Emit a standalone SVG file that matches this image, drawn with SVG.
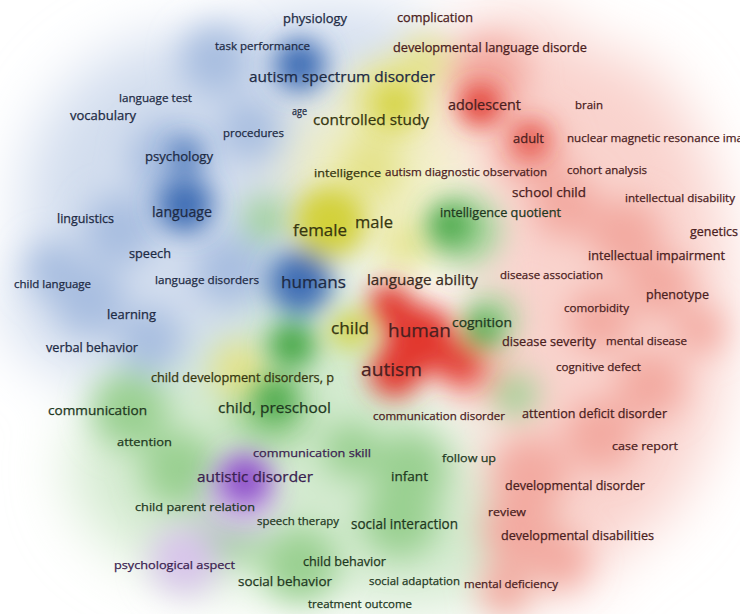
<svg xmlns="http://www.w3.org/2000/svg" width="740" height="614" viewBox="0 0 740 614">
<defs>
<filter id="bl1" filterUnits="userSpaceOnUse" x="-200" y="-200" width="1140" height="1014"><feGaussianBlur stdDeviation="30"/></filter>
<filter id="bl2" filterUnits="userSpaceOnUse" x="-200" y="-200" width="1140" height="1014"><feGaussianBlur stdDeviation="16"/></filter>
<filter id="bl3" filterUnits="userSpaceOnUse" x="-200" y="-200" width="1140" height="1014"><feGaussianBlur stdDeviation="13"/></filter>
</defs>
<style>
text{font-family:"Open Sans","Noto Sans","Liberation Sans",sans-serif;text-anchor:middle;font-weight:500;stroke-width:0.25}
.b{fill:#1d2a44;stroke:#1d2a44}.r{fill:#4a2020;stroke:#4a2020}.g{fill:#1e381e;stroke:#1e381e}.y{fill:#36360f;stroke:#36360f}.p{fill:#3a2150;stroke:#3a2150}.n{fill:#3a2a1e;stroke:#3a2a1e}
.pb{fill:#d2ddee}.pr{fill:#f9d3cd}.pg{fill:#d3eacf}.py{fill:#efeec0}
.mb{fill:#a8bee0}.mr{fill:#f3aaa1}.mg{fill:#9ad091}.my{fill:#e4e288}
.sb{fill:#3f6eb5}.sr{fill:#e2382f}.sg{fill:#4aa848}.sy{fill:#d3d13a}.sp{fill:#9052cb}.pp{fill:#d8c4eb}
</style>
<rect width="740" height="614" fill="#ffffff"/>
<g id="density">
<g id="wash" filter="url(#bl1)">
<ellipse class="pb" cx="190" cy="200" rx="165" ry="165"/>
<ellipse class="pb" cx="105" cy="300" rx="100" ry="80"/>
<ellipse class="pb" cx="330" cy="45" rx="110" ry="40"/>
<ellipse class="pr" cx="600" cy="300" rx="130" ry="250"/>
<ellipse class="pr" cx="515" cy="85" rx="80" ry="75"/>
<ellipse class="pr" cx="540" cy="520" rx="80" ry="80"/>
<ellipse class="pg" cx="270" cy="470" rx="200" ry="120"/>
<ellipse class="pg" cx="410" cy="540" rx="120" ry="70"/>
<ellipse class="pg" cx="320" cy="340" rx="80" ry="60"/>
<ellipse class="py" cx="370" cy="170" rx="90" ry="70"/>
<ellipse class="py" cx="410" cy="240" rx="40" ry="30"/>
</g>
<g id="medium" filter="url(#bl2)">
<circle class="mb" cx="215" cy="60" r="35"/>
<circle class="mb" cx="170" cy="160" r="40"/>
<circle class="mb" cx="120" cy="230" r="35"/>
<circle class="mb" cx="90" cy="300" r="35"/>
<circle class="mb" cx="55" cy="270" r="28"/>
<circle class="mb" cx="150" cy="340" r="32"/>
<circle class="mb" cx="250" cy="130" r="30"/>
<circle class="mb" cx="230" cy="270" r="35"/>
<circle class="mr" cx="490" cy="75" r="38"/>
<circle class="mr" cx="530" cy="150" r="35"/>
<circle class="mr" cx="565" cy="205" r="33"/>
<circle class="mr" cx="625" cy="235" r="36"/>
<circle class="mr" cx="660" cy="285" r="32"/>
<circle class="mr" cx="600" cy="320" r="32"/>
<circle class="mr" cx="650" cy="385" r="34"/>
<circle class="mr" cx="600" cy="435" r="36"/>
<circle class="mr" cx="530" cy="475" r="38"/>
<circle class="mr" cx="520" cy="530" r="38"/>
<circle class="mr" cx="560" cy="560" r="28"/>
<circle class="mr" cx="505" cy="590" r="26"/>
<circle class="mr" cx="700" cy="330" r="24"/>
<circle class="mr" cx="470" cy="365" r="34"/>
<circle class="mg" cx="465" cy="230" r="35"/>
<circle class="mg" cx="490" cy="320" r="26"/>
<circle class="mg" cx="270" cy="410" r="40"/>
<circle class="mg" cx="130" cy="410" r="38"/>
<circle class="mg" cx="180" cy="470" r="38"/>
<circle class="mg" cx="410" cy="470" r="38"/>
<circle class="mg" cx="400" cy="520" r="38"/>
<circle class="mg" cx="300" cy="565" r="38"/>
<circle class="mg" cx="350" cy="450" r="28"/>
<circle class="mg" cx="515" cy="395" r="22"/>
<circle class="mg" cx="230" cy="530" r="32"/>
<circle class="mg" cx="265" cy="220" r="22"/>
<circle class="my" cx="390" cy="100" r="40"/>
<circle class="my" cx="425" cy="60" r="25"/>
<circle class="my" cx="370" cy="170" r="30"/>
<circle class="my" cx="240" cy="370" r="28"/>
<circle class="my" cx="405" cy="245" r="22"/>
<circle class="pp" cx="185" cy="560" r="35"/>
<circle class="pp" cx="240" cy="500" r="35"/>
</g>
<g id="strong" filter="url(#bl3)">
<circle class="sb" cx="300" cy="65" r="26"/>
<circle class="sb" cx="185" cy="205" r="28"/>
<circle class="sb" cx="300" cy="282" r="32"/>
<circle class="sb" cx="185" cy="155" r="14"/>
<circle class="sy" cx="330" cy="222" r="36"/>
<circle class="sy" cx="350" cy="330" r="18"/>
<circle class="sy" cx="395" cy="105" r="18"/>
<circle class="sg" cx="292" cy="345" r="24"/>
<circle class="sg" cx="450" cy="225" r="20"/>
<circle class="sg" cx="275" cy="400" r="20"/>
<circle class="sg" cx="482" cy="330" r="16"/>
<circle class="sr" cx="420" cy="340" r="36"/>
<circle class="sr" cx="395" cy="372" r="26"/>
<circle class="sr" cx="390" cy="305" r="22"/>
<circle class="sr" cx="480" cy="105" r="20"/>
<circle class="sr" cx="530" cy="140" r="15"/>
<circle class="sr" cx="462" cy="365" r="18"/>
<circle class="sp" cx="245" cy="480" r="26"/>
</g>
</g>
<g id="labels">
<text id="t1" class="b" x="315" y="23" font-size="12.5" textLength="64" lengthAdjust="spacingAndGlyphs">physiology</text>
<text id="t2" class="r" x="435" y="22" font-size="12.5" textLength="76" lengthAdjust="spacingAndGlyphs">complication</text>
<text id="t3" class="b" x="262.5" y="50" font-size="11.5" textLength="95" lengthAdjust="spacingAndGlyphs">task performance</text>
<text id="t4" class="r" x="490" y="52" font-size="12" textLength="194" lengthAdjust="spacingAndGlyphs">developmental language disorde</text>
<text id="t5" class="b" x="342" y="82" font-size="15" textLength="186" lengthAdjust="spacingAndGlyphs">autism spectrum disorder</text>
<text id="t6" class="r" x="484.5" y="110" font-size="14" textLength="73" lengthAdjust="spacingAndGlyphs">adolescent</text>
<text id="t7" class="r" x="589" y="109" font-size="11.5" textLength="28" lengthAdjust="spacingAndGlyphs">brain</text>
<text id="t8" class="b" x="155.5" y="102" font-size="11.5" textLength="73" lengthAdjust="spacingAndGlyphs">language test</text>
<text id="t9" class="b" x="299.5" y="115" font-size="10" textLength="15" lengthAdjust="spacingAndGlyphs">age</text>
<text id="t10" class="y" x="371" y="125" font-size="15" textLength="116" lengthAdjust="spacingAndGlyphs">controlled study</text>
<text id="t11" class="b" x="103" y="120" font-size="12" textLength="66" lengthAdjust="spacingAndGlyphs">vocabulary</text>
<text id="t12" class="b" x="253.5" y="137" font-size="11.5" textLength="61" lengthAdjust="spacingAndGlyphs">procedures</text>
<text id="t13" class="r" x="528.5" y="143" font-size="13.5" textLength="31" lengthAdjust="spacingAndGlyphs">adult</text>
<text id="t14" class="r" x="567" y="142" font-size="11.5" textLength="176" lengthAdjust="spacingAndGlyphs" style="text-anchor:start">nuclear magnetic resonance ima</text>
<text id="t15" class="b" x="179" y="161" font-size="13" textLength="68" lengthAdjust="spacingAndGlyphs">psychology</text>
<text id="t16" class="y" x="347.5" y="177" font-size="11.5" textLength="67" lengthAdjust="spacingAndGlyphs">intelligence</text>
<text id="t17" class="r" x="466" y="176" font-size="11.5" textLength="162" lengthAdjust="spacingAndGlyphs">autism diagnostic observation</text>
<text id="t18" class="r" x="607" y="174" font-size="11.5" textLength="80" lengthAdjust="spacingAndGlyphs">cohort analysis</text>
<text id="t19" class="r" x="549" y="197" font-size="13.5" textLength="74" lengthAdjust="spacingAndGlyphs">school child</text>
<text id="t20" class="r" x="680" y="202" font-size="11.5" textLength="110" lengthAdjust="spacingAndGlyphs">intellectual disability</text>
<text id="t21" class="b" x="85.5" y="223" font-size="12" textLength="57" lengthAdjust="spacingAndGlyphs">linguistics</text>
<text id="t22" class="b" x="182" y="217" font-size="14.5" textLength="60" lengthAdjust="spacingAndGlyphs">language</text>
<text id="t23" class="g" x="500.5" y="217" font-size="12" textLength="121" lengthAdjust="spacingAndGlyphs">intelligence quotient</text>
<text id="t24" class="y" x="320" y="236" font-size="17" textLength="54" lengthAdjust="spacingAndGlyphs">female</text>
<text id="t25" class="y" x="374" y="228" font-size="17" textLength="38" lengthAdjust="spacingAndGlyphs">male</text>
<text id="t26" class="r" x="714" y="236" font-size="12" textLength="48" lengthAdjust="spacingAndGlyphs">genetics</text>
<text id="t27" class="r" x="656.5" y="260" font-size="12.5" textLength="137" lengthAdjust="spacingAndGlyphs">intellectual impairment</text>
<text id="t28" class="b" x="150" y="258" font-size="12.5" textLength="42" lengthAdjust="spacingAndGlyphs">speech</text>
<text id="t29" class="b" x="52.5" y="288" font-size="11" textLength="77" lengthAdjust="spacingAndGlyphs">child language</text>
<text id="t30" class="b" x="207" y="284" font-size="11.5" textLength="104" lengthAdjust="spacingAndGlyphs">language disorders</text>
<text id="t31" class="b" x="313.5" y="288" font-size="17" textLength="65" lengthAdjust="spacingAndGlyphs">humans</text>
<text id="t32" class="n" x="422.5" y="285" font-size="15" textLength="111" lengthAdjust="spacingAndGlyphs">language ability</text>
<text id="t33" class="r" x="551.5" y="279" font-size="11.5" textLength="103" lengthAdjust="spacingAndGlyphs">disease association</text>
<text id="t34" class="r" x="677.5" y="299" font-size="12.5" textLength="63" lengthAdjust="spacingAndGlyphs">phenotype</text>
<text id="t35" class="r" x="596.5" y="312" font-size="11.5" textLength="65" lengthAdjust="spacingAndGlyphs">comorbidity</text>
<text id="t36" class="b" x="131.5" y="319" font-size="12.5" textLength="49" lengthAdjust="spacingAndGlyphs">learning</text>
<text id="t37" class="y" x="350" y="334" font-size="17" textLength="38" lengthAdjust="spacingAndGlyphs">child</text>
<text id="t38" class="r" x="419.5" y="337" font-size="19" textLength="63" lengthAdjust="spacingAndGlyphs">human</text>
<text id="t39" class="g" x="482" y="327" font-size="12.5" textLength="60" lengthAdjust="spacingAndGlyphs">cognition</text>
<text id="t40" class="r" x="549" y="346" font-size="12.5" textLength="94" lengthAdjust="spacingAndGlyphs">disease severity</text>
<text id="t41" class="r" x="646.5" y="345" font-size="11.5" textLength="81" lengthAdjust="spacingAndGlyphs">mental disease</text>
<text id="t42" class="b" x="92" y="352" font-size="12" textLength="92" lengthAdjust="spacingAndGlyphs">verbal behavior</text>
<text id="t43" class="r" x="391.5" y="376" font-size="19" textLength="61" lengthAdjust="spacingAndGlyphs">autism</text>
<text id="t44" class="r" x="598.5" y="371" font-size="11.5" textLength="85" lengthAdjust="spacingAndGlyphs">cognitive defect</text>
<text id="t45" class="y" x="242.5" y="382" font-size="12" textLength="183" lengthAdjust="spacingAndGlyphs">child development disorders, p</text>
<text id="t46" class="g" x="97.5" y="415" font-size="12.5" textLength="99" lengthAdjust="spacingAndGlyphs">communication</text>
<text id="t47" class="g" x="274.5" y="413" font-size="15" textLength="113" lengthAdjust="spacingAndGlyphs">child, preschool</text>
<text id="t48" class="r" x="439" y="420" font-size="11.5" textLength="132" lengthAdjust="spacingAndGlyphs">communication disorder</text>
<text id="t49" class="r" x="594.5" y="418" font-size="12.5" textLength="145" lengthAdjust="spacingAndGlyphs">attention deficit disorder</text>
<text id="t50" class="g" x="144.5" y="446" font-size="11.5" textLength="55" lengthAdjust="spacingAndGlyphs">attention</text>
<text id="t51" class="r" x="645" y="450" font-size="11.5" textLength="66" lengthAdjust="spacingAndGlyphs">case report</text>
<text id="t52" class="p" x="312" y="457" font-size="11.5" textLength="118" lengthAdjust="spacingAndGlyphs">communication skill</text>
<text id="t53" class="g" x="469" y="462" font-size="11.5" textLength="54" lengthAdjust="spacingAndGlyphs">follow up</text>
<text id="t54" class="p" x="255" y="482" font-size="15" textLength="116" lengthAdjust="spacingAndGlyphs">autistic disorder</text>
<text id="t55" class="g" x="409.5" y="481" font-size="13.5" textLength="37" lengthAdjust="spacingAndGlyphs">infant</text>
<text id="t56" class="r" x="575" y="490" font-size="12.5" textLength="140" lengthAdjust="spacingAndGlyphs">developmental disorder</text>
<text id="t57" class="g" x="195" y="511" font-size="11.5" textLength="120" lengthAdjust="spacingAndGlyphs">child parent relation</text>
<text id="t58" class="r" x="507" y="516" font-size="11.5" textLength="38" lengthAdjust="spacingAndGlyphs">review</text>
<text id="t59" class="g" x="298" y="525" font-size="11.5" textLength="82" lengthAdjust="spacingAndGlyphs">speech therapy</text>
<text id="t60" class="g" x="404.5" y="529" font-size="14" textLength="107" lengthAdjust="spacingAndGlyphs">social interaction</text>
<text id="t61" class="r" x="577.5" y="540" font-size="12.5" textLength="153" lengthAdjust="spacingAndGlyphs">developmental disabilities</text>
<text id="t62" class="p" x="174.5" y="569" font-size="11.5" textLength="121" lengthAdjust="spacingAndGlyphs">psychological aspect</text>
<text id="t63" class="g" x="344.5" y="566" font-size="12" textLength="83" lengthAdjust="spacingAndGlyphs">child behavior</text>
<text id="t64" class="g" x="285" y="586" font-size="13.5" textLength="94" lengthAdjust="spacingAndGlyphs">social behavior</text>
<text id="t65" class="g" x="414.5" y="585" font-size="11.5" textLength="91" lengthAdjust="spacingAndGlyphs">social adaptation</text>
<text id="t66" class="r" x="511" y="588" font-size="11.5" textLength="94" lengthAdjust="spacingAndGlyphs">mental deficiency</text>
<text id="t67" class="g" x="360" y="608" font-size="11.5" textLength="104" lengthAdjust="spacingAndGlyphs">treatment outcome</text>
</g>
</svg>
